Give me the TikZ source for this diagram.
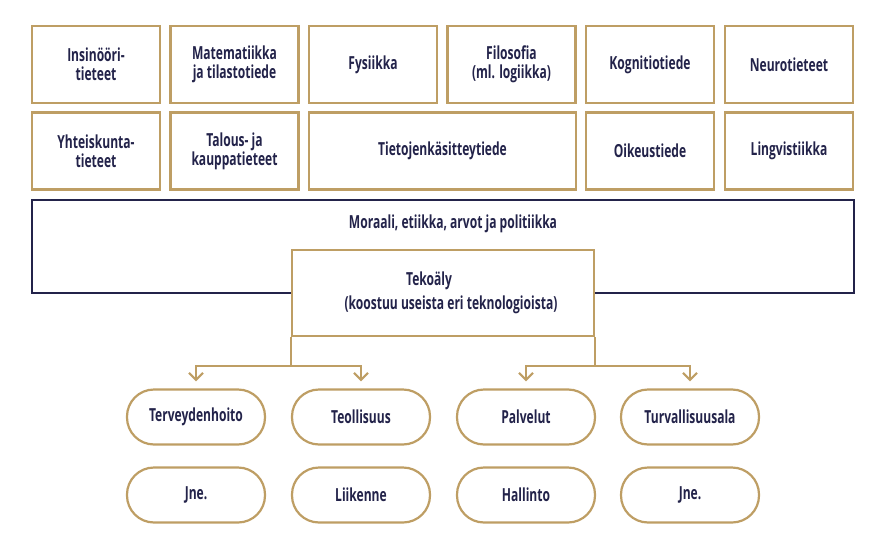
\documentclass[tikz,border=0pt]{standalone}
\usepackage{fontspec}
\setmainfont{Open Sans}[FakeStretch=0.67]
\usepackage{tikz}
\usetikzlibrary{arrows.meta}
\definecolor{gold}{RGB}{190,158,100}
\definecolor{navy}{RGB}{35,35,74}
\tikzset{
    field/.style={rectangle,draw=gold,line width=2.5pt,fill=white,minimum width=128pt,minimum height=77pt,align=center,inner sep=0pt,font=\fontsize{18}{19}\selectfont\bfseries,text=navy},
    sector/.style={rectangle,draw=gold,line width=2.2pt,fill=white,rounded corners=27pt,minimum width=138pt,minimum height=55pt,inner sep=0pt,font=\fontsize{18}{18}\selectfont\bfseries,text=navy},
    branch/.style={draw=gold,line width=2.2pt,-{Straight Barb[length=7pt,width=14pt,line width=2.2pt]},shorten >=7pt}
}

\begin{document}
\begin{tikzpicture}[x=1pt,y=-1pt]
    \useasboundingbox (0,0) rectangle (873,557);
    % tieteenalat
    \node[field] (ins) at (96,64.5) {Insinööri-\\tieteet};
    \node[field] (mat) at (234.5,64.5) {Matematiikka\\ja tilastotiede};
    \node[field] (fys) at (373,64.5) {Fysiikka};
    \node[field] (fil) at (511.5,64.5) {Filosofia\\(ml. logiikka)};
    \node[field] (kog) at (650,64.5) {Kognitiotiede};
    \node[field] (neu) at (789,64.5) {Neurotieteet};
    \node[field] (yht) at (96,151) {Yhteiskunta-\\tieteet};
    \node[field] (tal) at (234.5,151) {Talous- ja\\kauppatieteet};
    \node[field,minimum width=267pt] (tie) at (442.5,151) {Tietojenkäsitteytiede};
    \node[field] (oik) at (650,151) {Oikeustiede};
    \node[field] (lin) at (789,151) {Lingvistiikka};
    % moraali ja tekoaly
    \node[rectangle,draw=navy,line width=2pt,minimum width=822pt,minimum height=93pt] (mor) at (443,246) {};
    \node[text=navy,font=\fontsize{18}{18}\selectfont\bfseries] (mortxt) at (453,224) {Moraali, etiikka, arvot ja politiikka};
    \node[field,minimum width=302pt,minimum height=86pt,font=\fontsize{18}{24}\selectfont\bfseries] (tek) at (443,293) {Tekoäly\hspace*{28pt}\\\hspace*{16pt}(koostuu useista eri teknologioista)};
    % sovellusalat
    \node[sector] (ter) at (196,417) {Terveydenhoito};
    \node[sector] (teo) at (361,417) {Teollisuus};
    \node[sector] (pal) at (526,417) {Palvelut};
    \node[sector] (tur) at (690,417) {Turvallisuusala};
    \node[sector] (jne1) at (196,495) {Jne.};
    \node[sector] (lii) at (361,495) {Liikenne};
    \node[sector] (hal) at (526,495) {Hallinto};
    \node[sector] (jne2) at (690,495) {Jne.};
    \draw[branch] (tek.south west) -- ++(0,29) -| (ter);
    \draw[branch] (tek.south west) -- ++(0,29) -| (teo);
    \draw[branch] (tek.south east) -- ++(0,29) -| (pal);
    \draw[branch] (tek.south east) -- ++(0,29) -| (tur);
\end{tikzpicture}
\end{document}
